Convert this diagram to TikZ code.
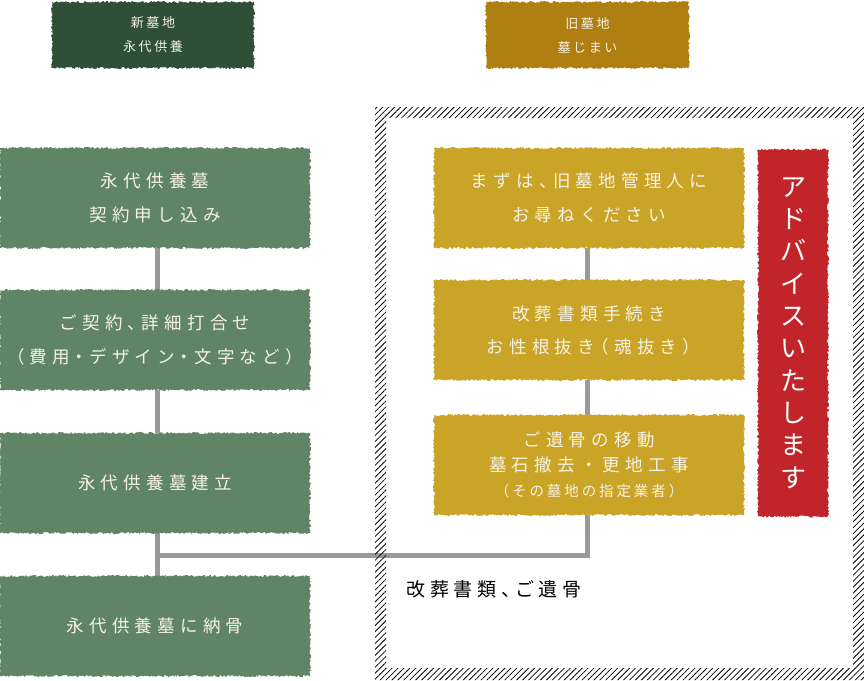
\documentclass[tikz,border=0pt]{standalone}
\usepackage{fontspec}
\usetikzlibrary{decorations.pathmorphing,patterns.meta,backgrounds}
\setmainfont{Noto Sans CJK JP}
\newfontfamily\jpA{Noto Sans CJK JP}[LetterSpace=30, RawFeature=+halt]
\newfontfamily\jpAfull{Noto Sans CJK JP}[LetterSpace=30]
\newfontfamily\jpB{Noto Sans CJK JP}[LetterSpace=20, RawFeature=+halt]
\newfontfamily\jpC{Noto Sans CJK JP}[LetterSpace=24, RawFeature=+halt]
\definecolor{hdgreen}{HTML}{2F4F37}
\definecolor{bxgreen}{HTML}{5F8466}
\definecolor{hdgold}{HTML}{B07F12}
\definecolor{bxgold}{HTML}{C9A426}
\definecolor{bxred}{HTML}{C1252A}
\definecolor{conn}{HTML}{999999}
\definecolor{paper}{HTML}{F6F2E6}
\pgfmathsetseed{7}
\tikzset{
  rough/.style={decorate, decoration={random steps, segment length=1.2pt, amplitude=1.1pt}},
  box/.style={rough, minimum width=310pt, minimum height=100pt, inner sep=0pt,
    align=center, text=paper, font=\jpA\fontsize{17.5}{34}\selectfont},
  greenbox/.style={box, fill=bxgreen},
  goldbox/.style={box, fill=bxgold},
  header/.style={rough, minimum height=66pt, inner sep=0pt, align=center, text=paper,
    font=\jpB\fontsize{13}{24}\selectfont},
  connector/.style={draw=conn, line width=5pt},
  hatch/.style={pattern={Lines[angle=45,distance=4.2pt,line width=0.8pt]}, even odd rule},
}
\begin{document}
\begin{tikzpicture}[x=1pt,y=-1pt]
\useasboundingbox (0,0) rectangle (864,680);
% hatched frame
\fill[hatch] (375,107) rectangle (864,680) (386,118) rectangle (853,668);
% headers
\node[header, fill=hdgreen, minimum width=202pt] (h1) at (153,35) {新墓地\\永代供養};
\node[header, fill=hdgold, minimum width=203pt] (h2) at (587.5,35) {旧墓地\\墓じまい};
% left column
\node[greenbox] (l1) at (155,198) {永代供養墓\\契約申し込み};
\node[greenbox] (l2) at (155,340) {ご契約、詳細打合せ\\（費用・デザイン・文字など）};
\node[greenbox] (l3) at (155,483) {永代供養墓建立};
\node[greenbox] (l4) at (155,626) {永代供養墓に納骨};
% right column
\node[goldbox] (r1) at (589,198) {まずは、旧墓地管理人に\\お尋ねください};
\node[goldbox, font=\jpA\fontsize{17.5}{33}\selectfont] (r2) at (589,330) {改葬書類手続き\\お性根抜き（魂抜き）};
\node[goldbox, font=\jpA\fontsize{17.5}{24.5}\selectfont] (r3) at (589,465)
  {ご遺骨の移動\\{\jpAfull 墓石撤去・更地工事}\\[1pt]{\jpB\fontsize{14.5}{24.5}\selectfont （その墓地の指定業者）}};
% red box
\node[rough, fill=bxred, minimum width=70pt, minimum height=367pt, inner sep=0pt,
  align=center, text=white, font=\fontsize{26}{32.3}\selectfont] (adv) at (793,333)
  {ア\\ド\\バ\\イ\\ス\\い\\た\\し\\ま\\す};
% label
\node[font=\jpC\fontsize{19}{22}\selectfont, text=black, inner sep=0pt] (lab) at (494,589) {改葬書類、ご遺骨};
% connectors
\coordinate (jl) at (157,555);
\coordinate (jr) at (587,555);
\begin{pgfonlayer}{background}
\draw[connector] (l1.south -| jl) -- (l2.north -| jl);
\draw[connector] (l2.south -| jl) -- (l3.north -| jl);
\draw[connector] (l3.south -| jl) -- (l4.north -| jl);
\draw[connector] (r1.south -| jr) -- (r2.north -| jr);
\draw[connector] (r2.south -| jr) -- (r3.north -| jr);
\draw[connector] (jl) -- (jr) -- (r3.south -| jr);
\end{pgfonlayer}
\end{tikzpicture}
\end{document}
